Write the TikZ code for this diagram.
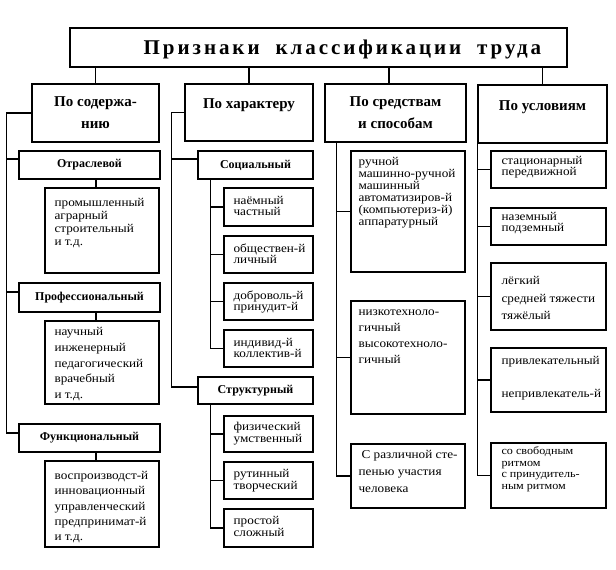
\documentclass[tikz,border=0pt]{standalone}
\usepackage{fontspec}
\setmainfont{Liberation Serif}
\newfontfamily\bodyfont[FakeStretch=1.1]{Liberation Serif}
\newfontfamily\titlefont[LetterSpace=14]{Liberation Serif}
\usetikzlibrary{fit}
\tikzset{
 thickbox/.style={draw, line width=2.4pt, inner sep=0pt},
 box/.style={draw, line width=1.2pt, inner sep=0pt},
 conn/.style={line width=1.1pt},
 hdr/.style={font=\bfseries\fontsize{15}{22}\selectfont, align=center, inner sep=0pt},
 subhdr/.style={font=\bfseries\fontsize{12}{14}\selectfont, inner sep=0pt},
 body/.style={font=\bodyfont\fontsize{12}{#1}\selectfont, align=left, anchor=north west, inner sep=0pt},
 smallbody/.style={font=\bodyfont\fontsize{11}{#1}\selectfont, align=left, anchor=north west, inner sep=0pt},
}
\newcommand{\fs}{\rule{0pt}{11pt}}
\begin{document}
\begin{tikzpicture}[x=1pt,y=-1pt]
\fill[white] (0,0) rectangle (616,570);
\useasboundingbox (0,0) rectangle (616,570);

% title
\node[thickbox, fit={(70,28)(567,67)}] (T) {};
\node[font=\titlefont\bfseries\fontsize{21}{24}\selectfont, inner sep=0pt] (Tt) at ([xshift=24pt,yshift=-1.5pt]T.center) {Признаки\hspace{16pt}классификации\hspace{16pt}труда};

% headers
\node[thickbox, fit={(32,84)(159,142)}] (B1) {};
\node[thickbox, fit={(185,84)(313,141)}] (B2) {};
\node[thickbox, fit={(325,84)(466,142)}] (B3) {};
\node[thickbox, fit={(478,85)(607,143)}] (B4) {};
\node[hdr] (B1t) at (B1.center) {По содержа-\\нию};
\node[hdr] (B2t) at ([yshift=7.5pt]B2.center) {По характеру};
\node[hdr] (B3t) at (B3.center) {По средствам\\и способам};
\node[hdr] (B4t) at ([yshift=7pt]B4.center) {По условиям};

\draw[conn] (B1.north |- T.south) -- (B1.north);
\draw[conn] (B2.north |- T.south) -- (B2.north);
\draw[conn] ([xshift=-6.5pt]B3.north |- T.south) -- ([xshift=-6.5pt]B3.north);
\draw[conn] (B4.north |- T.south) -- (B4.north);

% column 1
\node[box, fit={(19,151)(160,179)}] (O) {};
\node[subhdr] (Ot) at (O.center) {Отраслевой};
\node[box, fit={(45,188)(159,273)}] (K1) {};
\node[body=13] (K1t) at ([xshift=10pt,yshift=-8pt]K1.north west) {\fs промышленный\\аграрный\\строительный\\и т.д.};
\node[box, fit={(19,283)(160,312)}] (P) {};
\node[subhdr] (Pt) at (P.center) {Профессиональный};
\node[box, fit={(45,321)(159,404)}] (K2) {};
\node[body=15.75] (K2t) at ([xshift=10pt,yshift=-4pt]K2.north west) {\fs научный\\инженерный\\педагогический\\врачебный\\и т.д.};
\node[box, fit={(19,424)(160,452)}] (F) {};
\node[subhdr] (Ft) at (F.center) {Функциональный};
\node[box, fit={(45,461)(159,547)}] (K3) {};
\node[body=15.3] (K3t) at ([xshift=10pt,yshift=-8pt]K3.north west) {\fs воспроизводст-й\\инновационный\\управленческий\\предпринимат-й\\и т.д.};

\coordinate (bus1) at ([xshift=-24pt]B1.west);
\coordinate (Oin) at ([yshift=6pt]O.west);
\coordinate (Pin) at ([yshift=5.5pt]P.west);
\coordinate (Fin) at ([yshift=5pt]F.west);
\draw[conn] (B1.west) -- (bus1) -- (bus1 |- Fin) -- (Fin);
\draw[conn] (bus1 |- Oin) -- (Oin);
\draw[conn] (bus1 |- Pin) -- (Pin);
\draw[conn] ([xshift=6.5pt]O.south) -- ([xshift=6.5pt]O.south |- K1.north);
\draw[conn] ([xshift=6.5pt]P.south) -- ([xshift=6.5pt]P.south |- K2.north);
\draw[conn] ([xshift=6.5pt]F.south) -- ([xshift=6.5pt]F.south |- K3.north);

% column 2
\node[box, fit={(198,151)(313,179)}] (S) {};
\node[subhdr] (St) at (S.center) {Социальный};
\node[box, fit={(224,188)(313,226)}] (c1) {};
\node[box, fit={(224,236)(313,273)}] (c2) {};
\node[box, fit={(224,283)(313,320)}] (c3) {};
\node[box, fit={(224,330)(313,367)}] (c4) {};
\node[body=11] (c1t) at ([xshift=10pt,yshift=-6pt]c1.north west) {\fs наёмный\\частный};
\node[body=11] (c2t) at ([xshift=10pt,yshift=-6pt]c2.north west) {\fs обществен-й\\личный};
\node[body=11] (c3t) at ([xshift=10pt,yshift=-6pt]c3.north west) {\fs доброволь-й\\принудит-й};
\node[body=11] (c4t) at ([xshift=10pt,yshift=-6pt]c4.north west) {\fs индивид-й\\коллектив-й};
\node[box, fit={(198,377)(313,404)}] (R) {};
\node[subhdr] (Rt) at (R.center) {Структурный};
\node[box, fit={(224,416)(313,452)}] (s1) {};
\node[box, fit={(224,462)(313,499)}] (s2) {};
\node[box, fit={(224,509)(313,547)}] (s3) {};
\node[body=12] (s1t) at ([xshift=10pt,yshift=-4pt]s1.north west) {\fs физический\\умственный};
\node[body=12] (s2t) at ([xshift=10pt,yshift=-5pt]s2.north west) {\fs рутинный\\творческий};
\node[body=12] (s3t) at ([xshift=10pt,yshift=-5pt]s3.north west) {\fs простой\\сложный};

\coordinate (bus2) at ([xshift=-12pt]B2.west);
\coordinate (Sin) at ([yshift=6pt]S.west);
\coordinate (Rin) at ([yshift=3.5pt]R.west);
\draw[conn] (B2.west) -- (bus2) -- (bus2 |- Rin) -- (Rin);
\draw[conn] (bus2 |- Sin) -- (Sin);
\coordinate (sb1) at ([xshift=13pt]S.south west);
\draw[conn] (sb1) -- (sb1 |- c4.west) -- (c4.west);
\draw[conn] (sb1 |- c1.west) -- (c1.west);
\draw[conn] (sb1 |- c2.west) -- (c2.west);
\draw[conn] (sb1 |- c3.west) -- (c3.west);
\coordinate (sb2) at ([xshift=13pt]R.south west);
\draw[conn] (sb2) -- (sb2 |- s3.west) -- (s3.west);
\draw[conn] (sb2 |- s1.west) -- (s1.west);
\draw[conn] (sb2 |- s2.west) -- (s2.west);

% column 3
\node[box, fit={(351,151)(465,272)}] (r1) {};
\node[box, fit={(351,301)(465,414)}] (r2) {};
\node[box, fit={(351,444)(465,508)}] (r3) {};
\node[body=12] (r1t) at ([xshift=8pt,yshift=-4pt]r1.north west) {\fs ручной\\машинно-ручной\\машинный\\автоматизиров-й\\(компьютериз-й)\\аппаратурный};
\node[body=16] (r2t) at ([xshift=8pt,yshift=-4pt]r2.north west) {\fs низкотехноло-\\гичный\\высокотехноло-\\гичный};
\node[body=17] (r3t) at ([xshift=8pt,yshift=-4pt]r3.north west) {\fs\hspace{3pt}С различной сте-\\пенью участия\\человека};
\coordinate (bus3) at ([xshift=13pt]B3.south west);
\draw[conn] (bus3) -- (bus3 |- r3.west) -- (r3.west);
\draw[conn] (bus3 |- r1.west) -- (r1.west);
\draw[conn] (bus3 |- r2.west) -- (r2.west);

% column 4
\node[box, fit={(491,151)(606,188)}] (u1) {};
\node[box, fit={(491,208)(606,245)}] (u2) {};
\node[box, fit={(491,263)(606,330)}] (u3) {};
\node[box, fit={(491,348)(606,412)}] (u4) {};
\node[box, fit={(491,443)(606,508)}] (u5) {};
\node[body=11] (u1t) at ([xshift=11pt,yshift=-3pt]u1.north west) {\fs стационарный\\передвижной};
\node[body=11] (u2t) at ([xshift=11pt,yshift=-2pt]u2.north west) {\fs наземный\\подземный};
\node[body=17.5] (u3t) at ([xshift=11pt,yshift=-11pt]u3.north west) {\fs лёгкий\\средней тяжести\\тяжёлый};
\node[body=16.5] (u4t) at ([xshift=11pt,yshift=-6pt]u4.north west) {\fs привлекательный\\[16.5pt]непривлекатель-й};
\node[smallbody=11.5] (u5t) at ([xshift=11pt,yshift=-1pt]u5.north west) {\fs со свободным\\ритмом\\с принудитель-\\ным ритмом};
\coordinate (bus4) at ([xshift=1pt]B4.south west);
\draw[conn] (bus4) -- (bus4 |- u5.west) -- (u5.west);
\draw[conn] (bus4 |- u1.west) -- (u1.west);
\draw[conn] (bus4 |- u2.west) -- (u2.west);
\draw[conn] (bus4 |- u3.west) -- (u3.west);
\draw[conn] (bus4 |- u4.west) -- (u4.west);
\end{tikzpicture}
\end{document}
